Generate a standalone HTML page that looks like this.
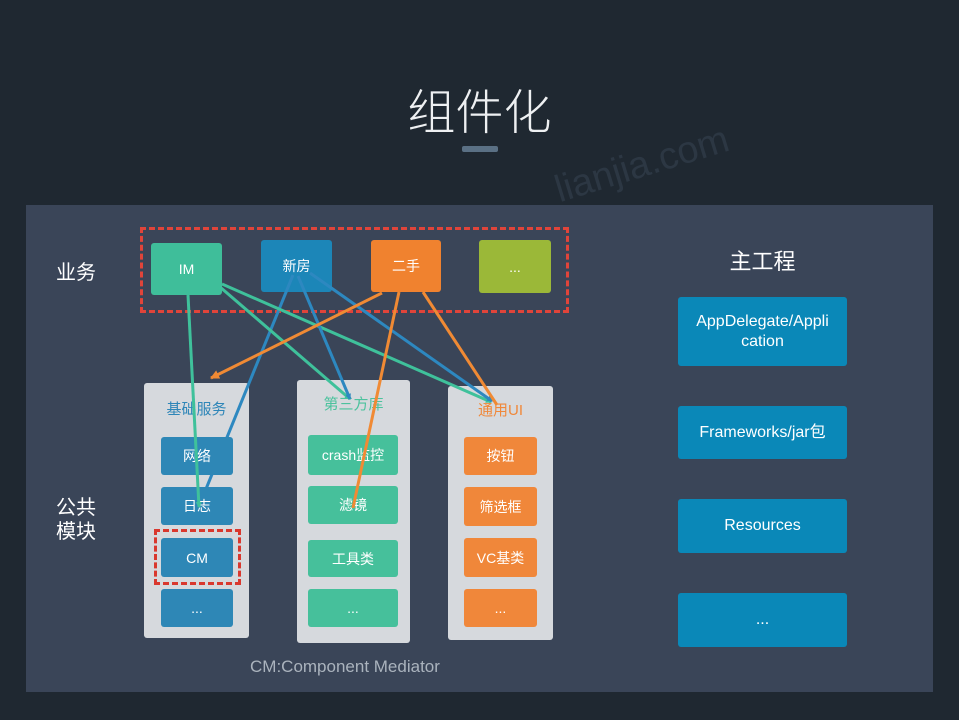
<!DOCTYPE html>
<html><head><meta charset="utf-8">
<style>
html,body{margin:0;padding:0;}
body{width:959px;height:720px;background:#1f2831;position:relative;overflow:hidden;font-family:"Liberation Sans","Noto Sans CJK SC",sans-serif;}
.a{position:absolute;}
.box{position:absolute;border-radius:3px;color:#fff;display:flex;align-items:center;justify-content:center;text-align:center;font-size:14px;}
.col{position:absolute;background:#d6d9dd;border-radius:3px;}
.hdr{position:absolute;font-size:15px;text-align:center;}
.b1{background:#2e87b6;}
.g{background:#46c09b;}
.o{background:#f0873a;}
.r{position:absolute;background:#0a88b8;border-radius:3px;color:#fff;font-size:16px;display:flex;align-items:center;justify-content:center;text-align:center;line-height:20px;}
</style></head>
<body>
<div class="a" style="left:562px;top:170px;height:40px;line-height:40px;font-size:38px;color:#2c3743;transform:rotate(-17deg);transform-origin:left bottom;font-family:'Liberation Sans',sans-serif;white-space:nowrap;">lianjia.com</div>
<div class="a" style="left:0;top:87px;width:959px;text-align:center;font-size:48px;color:#eef0f2;line-height:54px;font-family:'Liberation Sans','Noto Sans CJK SC',sans-serif;font-weight:300;">组件化</div>
<div class="a" style="left:462px;top:146px;width:36px;height:6px;background:#5a7084;border-radius:2px;"></div>

<div class="a" style="left:26px;top:205px;width:907px;height:487px;background:#3a4558;"></div>

<div class="a" style="left:56px;top:256px;font-size:20px;color:#fff;">业务</div>
<div class="a" style="left:56px;top:496px;font-size:20px;color:#fff;line-height:24px;">公共<br>模块</div>

<!-- top dashed -->
<div class="a" style="left:140px;top:227px;width:423px;height:80px;border:3px dashed #e0443a;"></div>
<div class="box" style="left:151px;top:243px;width:71px;height:52px;background:#3fbe9a;">IM</div>
<div class="box" style="left:261px;top:240px;width:71px;height:52px;background:#1c86b8;">新房</div>
<div class="box" style="left:371px;top:240px;width:70px;height:52px;background:#f0822f;">二手</div>
<div class="box" style="left:479px;top:240px;width:72px;height:53px;background:#9bb838;">...</div>

<!-- columns -->
<div class="col" style="left:144px;top:383px;width:105px;height:255px;"></div>
<div class="col" style="left:297px;top:380px;width:113px;height:263px;"></div>
<div class="col" style="left:448px;top:386px;width:105px;height:254px;"></div>

<!-- blue line behind boxes -->
<svg class="a" style="left:0;top:0;" width="959" height="720">
<line x1="293" y1="275" x2="206" y2="489" stroke="#2d88c0" stroke-width="3"/>
</svg>

<div class="hdr" style="left:144px;top:398px;width:105px;color:#2e86b8;">基础服务</div>
<div class="hdr" style="left:297px;top:393px;width:113px;color:#4cc29d;">第三方库</div>
<div class="hdr" style="left:448px;top:399px;width:105px;color:#f0883a;">通用UI</div>

<div class="box b1" style="left:161px;top:437px;width:72px;height:38px;">网络</div>
<div class="box b1" style="left:161px;top:487px;width:72px;height:38px;">日志</div>
<div class="box b1" style="left:161px;top:538px;width:72px;height:39px;">CM</div>
<div class="box b1" style="left:161px;top:589px;width:72px;height:38px;">...</div>
<div class="a" style="left:154px;top:529px;width:81px;height:50px;border:3px dashed #d9382e;"></div>

<div class="box g" style="left:308px;top:435px;width:90px;height:40px;">crash监控</div>
<div class="box g" style="left:308px;top:486px;width:90px;height:38px;">滤镜</div>
<div class="box g" style="left:308px;top:540px;width:90px;height:37px;">工具类</div>
<div class="box g" style="left:308px;top:589px;width:90px;height:38px;">...</div>

<div class="box o" style="left:464px;top:437px;width:73px;height:38px;">按钮</div>
<div class="box o" style="left:464px;top:487px;width:73px;height:39px;">筛选框</div>
<div class="box o" style="left:464px;top:538px;width:73px;height:39px;">VC基类</div>
<div class="box o" style="left:464px;top:589px;width:73px;height:38px;">...</div>

<!-- lines on top -->
<svg class="a" style="left:0;top:0;" width="959" height="720">
<defs>
<marker id="mg" markerWidth="6" markerHeight="6" refX="5" refY="3" orient="auto" markerUnits="userSpaceOnUse"><path d="M0,0 L6,3 L0,6 z" fill="#3fc19b"/></marker>
<marker id="mb" markerWidth="6" markerHeight="6" refX="5" refY="3" orient="auto" markerUnits="userSpaceOnUse"><path d="M0,0 L6,3 L0,6 z" fill="#2d88c0"/></marker>
<marker id="mo" markerWidth="9" markerHeight="9" refX="8" refY="4.5" orient="auto" markerUnits="userSpaceOnUse"><path d="M0,0 L9,4.5 L0,9 z" fill="#f08a34"/></marker>
</defs>
<g stroke-width="3" fill="none">
<line x1="188" y1="295" x2="199" y2="507" stroke="#3fc19b" marker-end="url(#mg)"/>
<line x1="220" y1="287" x2="350" y2="399" stroke="#3fc19b" marker-end="url(#mg)"/>
<line x1="222" y1="284" x2="491" y2="402" stroke="#3fc19b" marker-end="url(#mg)"/>
<line x1="298" y1="276" x2="350" y2="399" stroke="#2d88c0" marker-end="url(#mb)"/>
<line x1="310" y1="273" x2="492" y2="401" stroke="#2d88c0" marker-end="url(#mb)"/>
<line x1="382" y1="293" x2="211" y2="378" stroke="#f08a34" marker-end="url(#mo)"/>
<line x1="399" y1="292" x2="353" y2="508" stroke="#f08a34"/>
<line x1="423" y1="292" x2="497" y2="405" stroke="#f08a34"/>
</g>
</svg>

<div class="a" style="left:250px;top:657px;font-size:17px;color:#aab3bd;">CM:Component Mediator</div>

<div class="a" style="left:678px;top:244px;width:169px;text-align:center;font-size:22px;color:#fff;">主工程</div>
<div class="r" style="left:678px;top:297px;width:169px;height:69px;">AppDelegate/Appli<br>cation</div>
<div class="r" style="left:678px;top:406px;width:169px;height:53px;">Frameworks/jar包</div>
<div class="r" style="left:678px;top:499px;width:169px;height:54px;">Resources</div>
<div class="r" style="left:678px;top:593px;width:169px;height:54px;">...</div>
</body></html>
